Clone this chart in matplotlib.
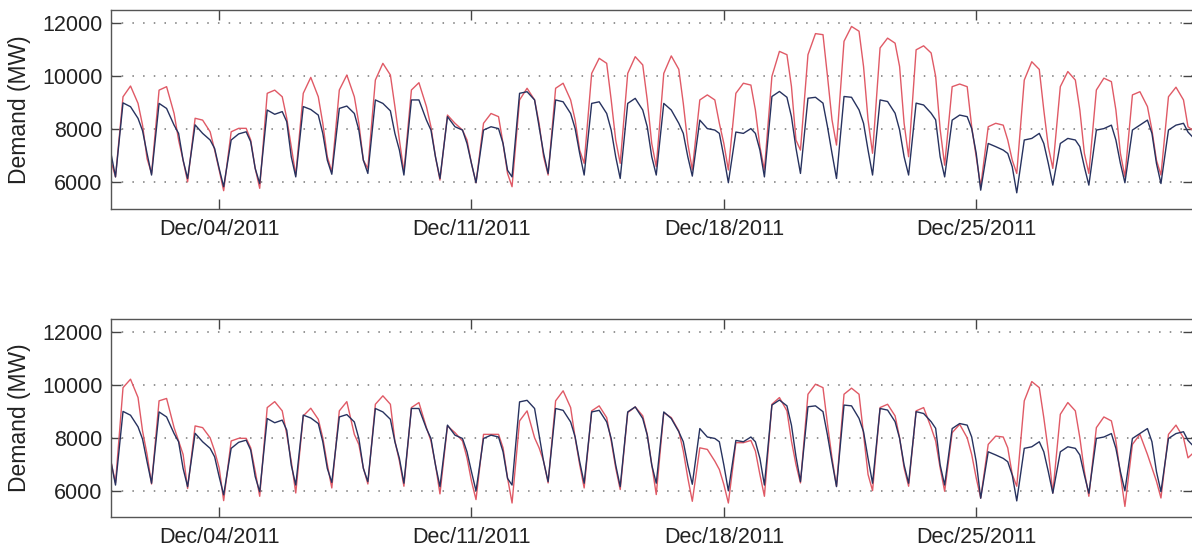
import numpy as np
import matplotlib
matplotlib.use("Agg")
import matplotlib.pyplot as plt
import matplotlib.dates as mdates
from datetime import datetime, timedelta

plt.rcParams['font.family'] = ['Liberation Sans', 'DejaVu Sans']

# hours of the day at which values were read
hours = [0, 3, 8, 13, 18, 21]
start = datetime(2011, 12, 1)
n_days = 30

# Actual demand (blue), one row per day, values at `hours`
actual = [
    [7094, 6210, 9000, 8855, 8415, 7950],
    [7094, 6280, 8980, 8790, 8160, 7850],
    [6840, 6150, 8170, 7850, 7600, 7280],
    [6530, 5840, 7600, 7830, 7910, 7535],
    [6530, 5960, 8730, 8570, 8670, 8290],
    [6970, 6210, 8860, 8750, 8540, 7850],
    [6840, 6310, 8790, 8880, 8600, 7975],
    [6840, 6340, 9110, 8980, 8700, 7850],
    [7220, 6280, 9110, 9110, 8350, 7975],
    [6970, 6150, 8480, 8100, 7975, 7470],
    [6710, 5990, 7975, 8100, 8030, 7470],
    [6460, 6210, 9360, 9420, 9110, 8100],
    [7100, 6340, 9110, 9040, 8600, 8030],
    [7100, 6280, 8980, 9040, 8600, 7975],
    [6970, 6150, 8980, 9170, 8730, 8100],
    [6970, 6280, 8980, 8730, 8230, 7850],
    [6970, 6240, 8350, 8030, 7975, 7850],
    [6970, 5990, 7900, 7850, 8030, 7850],
    [7220, 6210, 9240, 9430, 9210, 8480],
    [7300, 6340, 9175, 9210, 8990, 8100],
    [7100, 6150, 9240, 9210, 8735, 8230],
    [7220, 6280, 9110, 9050, 8610, 7980],
    [6970, 6280, 8990, 8920, 8610, 8360],
    [6970, 6210, 8350, 8540, 8480, 8030],
    [7100, 5710, 7470, 7350, 7220, 7094],
    [6590, 5610, 7600, 7660, 7850, 7470],
    [6720, 5900, 7470, 7660, 7600, 7350],
    [6590, 5900, 7975, 8030, 8160, 7600],
    [6720, 5990, 7975, 8160, 8350, 7850],
    [6720, 5960, 7975, 8160, 8230, 7900],
]
actual_end = 7720

# Forecast, top panel (red)
forecast_top = [
    [6800, 6210, 9230, 9635, 8980, 8160],
    [6900, 6340, 9480, 9610, 8600, 7600],
    [6840, 6025, 8420, 8350, 7910, 7220],
    [6470, 5690, 7910, 8040, 8040, 7600],
    [6530, 5780, 9360, 9480, 9230, 8420],
    [7350, 6280, 9360, 9960, 9230, 8230],
    [6970, 6400, 9485, 10050, 9230, 8230],
    [6840, 6530, 9860, 10490, 10050, 8860],
    [7600, 6400, 9485, 9760, 8860, 8100],
    [6970, 6090, 8540, 8230, 7975, 7600],
    [6710, 5990, 8230, 8600, 8480, 7470],
    [6340, 5840, 9110, 9550, 9110, 8230],
    [6970, 6280, 9550, 9740, 9110, 8350],
    [7220, 6720, 10110, 10680, 10490, 9110],
    [7600, 6720, 10110, 10740, 10430, 9110],
    [7470, 6590, 10110, 10770, 10265, 8980],
    [7470, 6470, 9110, 9300, 9110, 8230],
    [7470, 6470, 9360, 9740, 9670, 8730],
    [7350, 6470, 10000, 10940, 10815, 9620],
    [7600, 7220, 10815, 11610, 11570, 10000],
    [8360, 7410, 11320, 11880, 11700, 10370],
    [8360, 7100, 11070, 11440, 11250, 10370],
    [8230, 6970, 11000, 11150, 10880, 10000],
    [8000, 6650, 9610, 9710, 9610, 8100],
    [6970, 5840, 8100, 8230, 8160, 7600],
    [6840, 6340, 9860, 10550, 10260, 8730],
    [7350, 6530, 9610, 10180, 9860, 8730],
    [7100, 6340, 9485, 9930, 9800, 8730],
    [7100, 6210, 9300, 9420, 8860, 7975],
    [6840, 6280, 9230, 9590, 9110, 8100],
]
forecast_top_end = 7975

# Forecast, bottom panel (red)
forecast_bottom = [
    [7100, 6290, 9900, 10220, 9525, 8260],
    [7370, 6250, 9400, 9490, 8385, 7880],
    [7370, 6080, 8450, 8385, 8000, 7500],
    [6860, 5620, 7880, 7980, 7980, 7620],
    [6735, 5785, 9145, 9370, 9020, 8130],
    [7115, 5910, 8830, 9120, 8700, 8000],
    [6990, 6100, 9020, 9370, 8130, 7750],
    [6860, 6250, 9270, 9590, 9270, 7880],
    [7120, 6165, 9145, 9335, 8385, 7880],
    [6990, 5875, 8450, 8195, 7880, 7240],
    [6355, 5660, 8130, 8130, 8130, 7620],
    [6480, 5530, 8640, 9020, 8000, 7620],
    [7115, 6290, 9400, 9780, 9145, 8000],
    [6990, 6100, 9020, 9210, 8765, 7880],
    [6860, 6040, 8955, 9170, 8830, 8130],
    [6990, 5850, 8955, 8765, 8260, 7500],
    [6480, 5595, 7620, 7560, 7115, 6800],
    [6230, 5530, 7815, 7815, 7900, 7500],
    [6610, 5785, 9270, 9525, 9020, 7880],
    [6990, 6290, 9650, 10030, 9900, 8510],
    [7240, 6165, 9650, 9880, 9650, 8130],
    [6610, 6000, 9145, 9270, 8830, 8000],
    [6860, 6165, 9020, 9145, 8385, 7880],
    [6860, 5975, 8195, 8510, 8000, 7370],
    [6480, 5720, 7750, 8065, 8030, 7620],
    [6610, 6165, 9400, 10130, 9900, 8765],
    [7500, 5910, 8890, 9335, 9020, 8000],
    [6735, 5785, 8385, 8790, 8640, 7880],
    [6610, 5400, 7750, 8130, 7370, 6860],
    [6355, 5720, 8130, 8480, 8000, 7240],
]
forecast_bottom_end = 7400

yticks = [6000, 8000, 10000, 12000]
xtick_dates = [datetime(2011, 12, 4), datetime(2011, 12, 11),
               datetime(2011, 12, 18), datetime(2011, 12, 25)]
ylabel = "Demand (MW)"


def build_times():
    t = []
    for d in range(n_days):
        for h in hours:
            t.append(start + timedelta(days=d, hours=h))
    t.append(start + timedelta(days=n_days))
    return t


def flat(rows, end):
    v = [x for r in rows for x in r]
    v.append(end)
    return v


times = build_times()
blue = "#27325f"
red = "#e05a66"

fig = plt.figure(figsize=(11.92, 5.48), dpi=100)
W, H = 1192.0, 548.0
left_px, right_px = 111.0, 1192.5
panels = [(10.0, 209.0, forecast_top, forecast_top_end),
          (319.0, 517.0, forecast_bottom, forecast_bottom_end)]

for top_px, bot_px, fc, fc_end in panels:
    ax = fig.add_axes([left_px / W, 1 - bot_px / H,
                       (right_px - left_px) / W, (bot_px - top_px) / H])
    ax.plot(times, flat(fc, fc_end), color=red, lw=1.0)
    ax.plot(times, flat(actual, actual_end), color=blue, lw=1.0)
    ax.set_xlim(start, start + timedelta(days=n_days))
    ax.set_ylim(5000, 12500)
    ax.set_yticks(yticks)
    ax.set_xticks(xtick_dates)
    ax.xaxis.set_major_formatter(mdates.DateFormatter('%b/%d/%Y'))
    ax.yaxis.grid(True, color='#777777', linestyle=(0, (1, 6)), lw=1.1)
    ax.tick_params(direction='in', length=7, width=1, color='#444444',
                   labelsize=15.5, labelcolor='#222222',
                   top=True, right=True, pad=6)
    ax.tick_params(axis='x', pad=7)
    for s in ax.spines.values():
        s.set_color('#555555')
        s.set_linewidth(1)
    ax.set_ylabel(ylabel, fontsize=16.5, color='#222222', labelpad=8)

fig.savefig("out.png", dpi=100)
